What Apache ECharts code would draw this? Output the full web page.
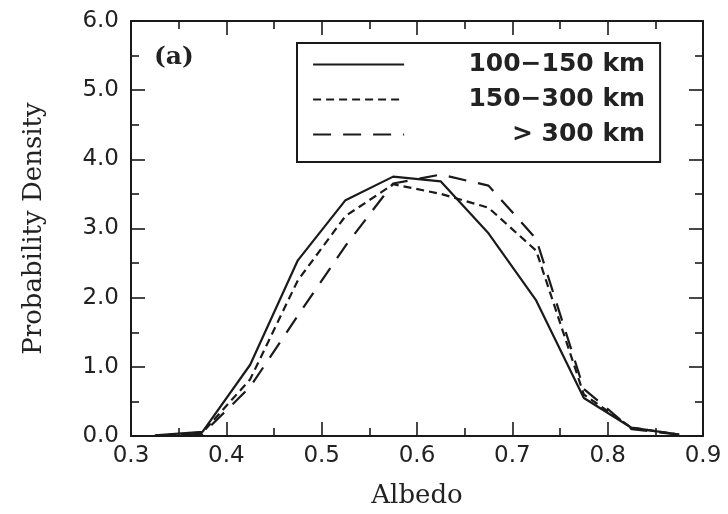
<!DOCTYPE html>
<html>
<head>
<meta charset="utf-8">
<script src="https://cdn.jsdelivr.net/npm/echarts@6/dist/echarts.min.js"></script>
<style>
html,body{margin:0;padding:0;background:#fff;}
#chart{width:728px;height:514px;}
</style>
</head>
<body>
<div id="chart"></div>
<script>
var albedo = [0.325, 0.375, 0.425, 0.475, 0.525, 0.575, 0.625, 0.675, 0.725, 0.775, 0.825, 0.875];
var seriesNames = ['100\u2212150 km', '150\u2212300 km', '> 300 km'];
var density100 = [0.01, 0.06, 1.03, 2.54, 3.41, 3.75, 3.68, 2.93, 1.96, 0.55, 0.12, 0.02];
var density150 = [0.00, 0.05, 0.82, 2.25, 3.18, 3.64, 3.50, 3.30, 2.68, 0.60, 0.12, 0.02];
var density300 = [0.00, 0.03, 0.71, 1.74, 2.75, 3.65, 3.78, 3.62, 2.85, 0.68, 0.10, 0.02];
var xTicks = [0.3, 0.4, 0.5, 0.6, 0.7, 0.8, 0.9];
var yTicks = [0.0, 1.0, 2.0, 3.0, 4.0, 5.0, 6.0];

function pairs(ys) { return albedo.map(function (x, i) { return [x, ys[i]]; }); }

var ink = '#1a1a1a';
var sansFont = '"DejaVu Sans", sans-serif';
var serifFont = '"DejaVu Serif", serif';

function axisCommon(showLabel, isX) {
  return {
    type: 'value',
    min: isX ? xTicks[0] : yTicks[0],
    max: isX ? xTicks[xTicks.length - 1] : yTicks[yTicks.length - 1],
    interval: isX ? 0.1 : 1,
    axisLine: { show: true, onZero: false, lineStyle: { color: ink, width: 2 } },
    axisTick: { show: true, inside: true, length: 14, lineStyle: { color: ink, width: 1.6 } },
    minorTick: { show: true, splitNumber: 2, length: 8, lineStyle: { color: ink, width: 1.6 } },
    splitLine: { show: false },
    minorSplitLine: { show: false },
    axisLabel: {
      show: showLabel,
      color: '#222',
      fontFamily: sansFont,
      fontSize: 23,
      margin: isX ? 9 : 12,
      formatter: function (v) { return v.toFixed(1); }
    }
  };
}

var xBottom = axisCommon(true, true);
xBottom.position = 'bottom';
xBottom.name = 'Albedo';
xBottom.nameLocation = 'middle';
xBottom.nameGap = 47;
xBottom.nameTextStyle = { fontFamily: serifFont, fontSize: 26, color: '#222' };
var xTop = axisCommon(false, true);
xTop.position = 'top';

var yLeft = axisCommon(true, false);
yLeft.position = 'left';
yLeft.name = 'Probability Density';
yLeft.nameLocation = 'middle';
yLeft.nameGap = 84;
yLeft.nameTextStyle = { fontFamily: serifFont, fontSize: 26, color: '#222' };
var yRight = axisCommon(false, false);
yRight.position = 'right';

var dashes = ['solid', [8, 5], [18, 12]];
var dataSets = [density100, density150, density300];

var chart = echarts.init(document.getElementById('chart'), null, { renderer: 'canvas' });
chart.setOption({
  animation: false,
  backgroundColor: '#fff',
  grid: { left: 131, right: 25, top: 21, bottom: 78, containLabel: false },
  title: {
    text: '(a)', left: 149, top: 40,
    textStyle: { fontFamily: serifFont, fontSize: 25, fontWeight: 'bold', color: '#222' }
  },
  legend: {
    orient: 'vertical',
    left: 297, top: 43,
    padding: [9, 15, 15, 15],
    borderColor: ink, borderWidth: 2,
    itemWidth: 91, itemHeight: 14, itemGap: 10,
    itemStyle: { opacity: 0 },
    lineStyle: { width: 2.2 },
    data: seriesNames,
    formatter: function (name) { return '{t|' + name + '}'; },
    textStyle: {
      rich: {
        t: { width: 236, align: 'right', fontFamily: sansFont, fontSize: 25, fontWeight: 'bold', color: '#222', lineHeight: 22 }
      }
    }
  },
  xAxis: [xBottom, xTop],
  yAxis: [yLeft, yRight],
  series: seriesNames.map(function (n, i) {
    return {
      name: n, type: 'line', xAxisIndex: 0, yAxisIndex: 0,
      symbol: 'none', data: pairs(dataSets[i]),
      lineStyle: { color: ink, width: 2.2, type: dashes[i] },
      itemStyle: { color: ink }
    };
  })
});
</script>
</body>
</html>
